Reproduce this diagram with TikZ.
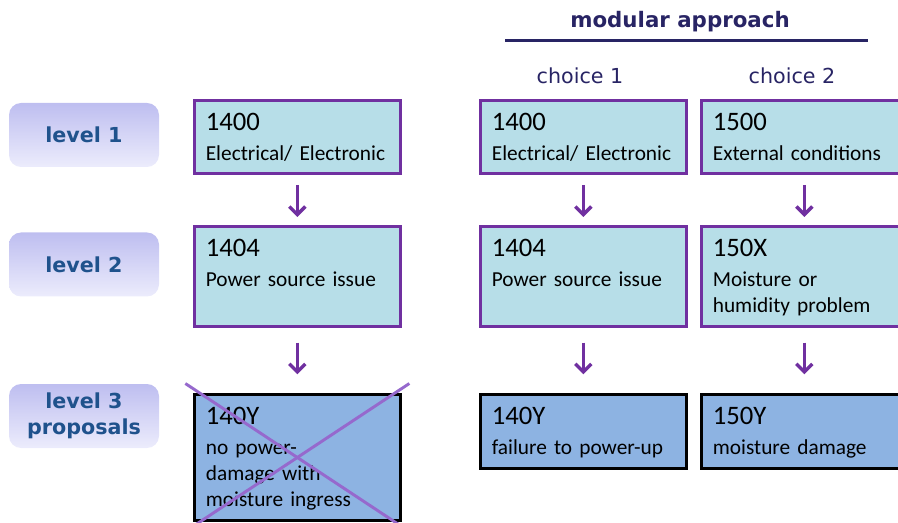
\documentclass[tikz,border=0pt]{standalone}
\usepackage{fontspec}
\setmainfont{Carlito}
\newfontfamily\verdfont{DejaVu Sans}
\usetikzlibrary{arrows.meta,calc}

\definecolor{boxfill}{RGB}{183,222,232}
\definecolor{propfill}{RGB}{141,179,226}
\definecolor{purp}{RGB}{112,48,160}
\definecolor{crosscol}{RGB}{150,105,205}
\definecolor{lvltext}{RGB}{31,82,140}
\definecolor{navy}{RGB}{40,36,100}
\definecolor{lvltop}{RGB}{190,190,240}
\definecolor{lvlbot}{RGB}{236,236,252}

\newcommand{\code}[2]{{\fontsize{20}{22}\selectfont #1}\\[3pt]#2}

\begin{document}
\begin{tikzpicture}[
    x=0.75pt, y=-0.75pt,
    % Rótulos dos níveis
    lvl/.style={
        rounded corners=9pt, top color=lvltop, bottom color=lvlbot,
        draw=none, text=lvltext, align=center,
        font=\verdfont\bfseries\fontsize{15.5}{19.5}\selectfont,
        minimum width=112.5pt, minimum height=48pt
    },
    % Caixas de código
    codebox/.style={
        draw=purp, line width=2.25pt, fill=boxfill, anchor=north west,
        font=\fontsize{16}{19.5}\selectfont, align=left,
        text width=137.25pt, inner xsep=8.5pt, inner ysep=10pt,
        text height=12.7pt, text depth=#1
    },
    propbox/.style={codebox=#1, draw=black, fill=propfill},
    choice/.style={font=\verdfont\fontsize{15.5}{18}\selectfont, text=navy},
    arrowdown/.style={draw=purp, line width=2.6pt,
        -{Straight Barb[length=6pt,width=12pt]}},
    cross/.style={draw=crosscol, line width=2.2pt}
]

\clip (0,0) rectangle (898,523);

% ---- CABEÇALHO ----
\node[font=\verdfont\bfseries\fontsize{16}{19}\selectfont, text=navy]
    (modular) at (680,22) {modular approach};
\coordinate (rule_l) at (505,41);
\coordinate (rule_r) at (868,41);
\draw[navy, line width=2.25pt] (rule_l) -- (rule_r);

\node[choice] (ch1) at (580,76) {choice 1};
\node[choice] (ch2) at (792,76) {choice 2};

% ---- NÍVEIS ----
\node[lvl] (lvl1) at (84,135) {level 1};
\node[lvl] (lvl2) at (84,264.5) {level 2};
\node[lvl] (lvl3) at (84,416) {level 3\\proposals};

% ---- NÍVEL 1 ----
\node[codebox=22pt] (a1) at (193,99) {\code{1400}{Electrical/ Electronic}};
\node[codebox=22pt] (b1) at (479,99) {\code{1400}{Electrical/ Electronic}};
\node[codebox=22pt] (c1) at (700,99) {\code{1500}{External conditions}};

% ---- NÍVEL 2 ----
\node[codebox=42.3pt] (a2) at (193,225) {\code{1404}{Power source issue}};
\node[codebox=42.3pt] (b2) at (479,225) {\code{1404}{Power source issue}};
\node[codebox=42.3pt] (c2) at (700,225) {\code{150X}{Moisture or\\humidity problem}};

% ---- NÍVEL 3: PROPOSTAS ----
\node[propbox=61.8pt] (a3) at (193,393) {\code{140Y}{no power-\\damage with\\moisture ingress}};
\node[propbox=22.8pt] (b3) at (479,393) {\code{140Y}{failure to power-up}};
\node[propbox=22.8pt] (c3) at (700,393) {\code{150Y}{moisture damage}};

% Proposta rejeitada
\draw[cross] ($(a3.center)+(-112,-74)$) -- ($(a3.center)+(112,74)$);
\draw[cross] ($(a3.center)+(112,-74)$) -- ($(a3.center)+(-112,74)$);

% ---- SETAS ----
\foreach \col in {a,b,c}{
    \draw[arrowdown, shorten <=7.5pt, shorten >=6pt] (\col1.south) -- (\col2.north);
    \draw[arrowdown, shorten <=11pt, shorten >=14pt] (\col2.south) -- (\col3.north);
}

\end{tikzpicture}
\end{document}
